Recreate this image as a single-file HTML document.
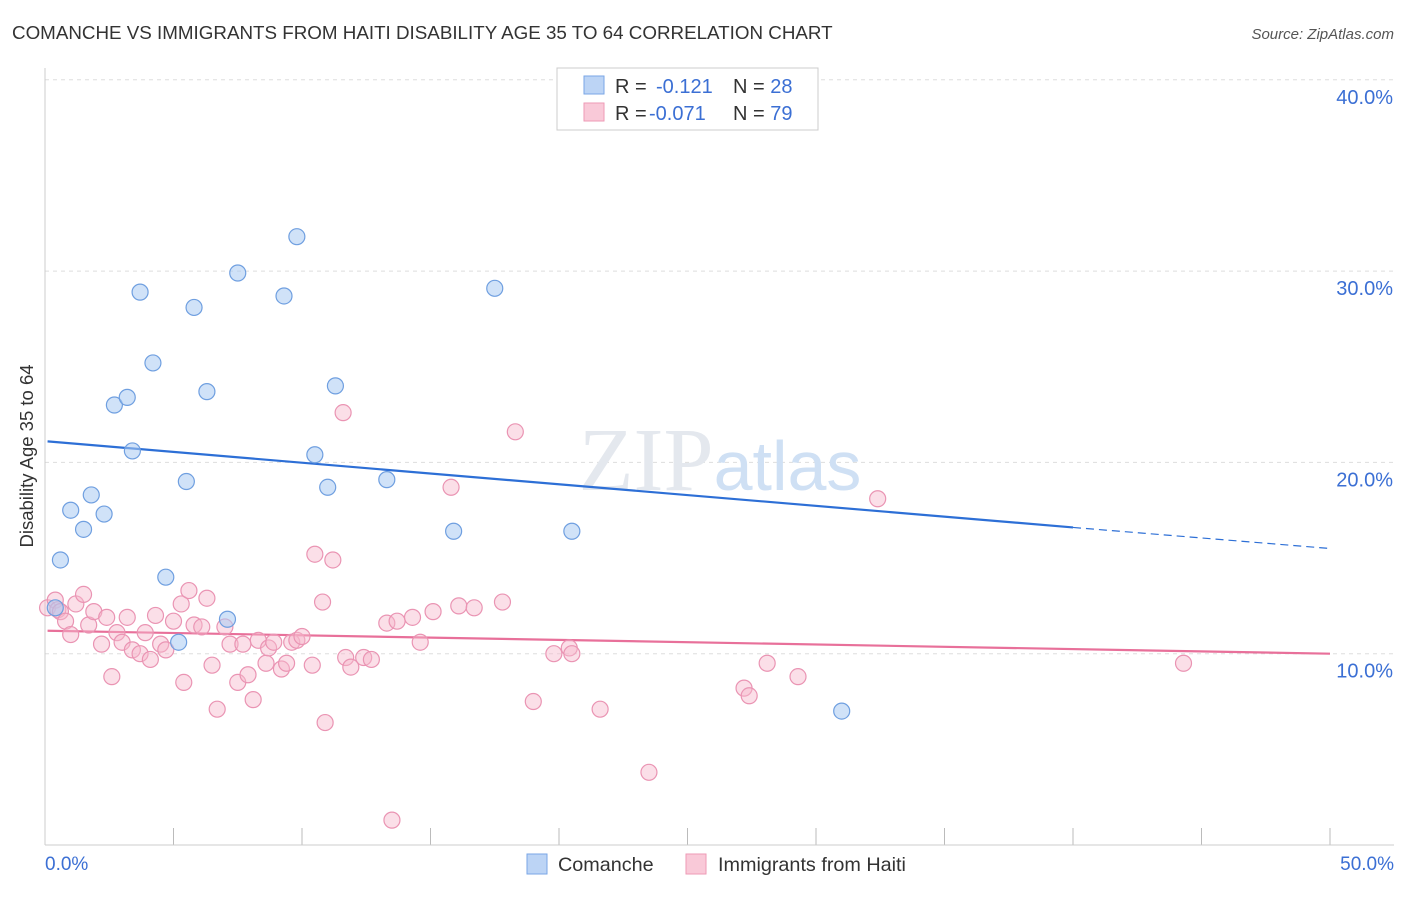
<!DOCTYPE html>
<html><head><meta charset="utf-8"><style>
body{margin:0;background:#fff;font-family:"Liberation Sans",sans-serif}
</style></head><body>
<svg width="1406" height="892" xmlns="http://www.w3.org/2000/svg">
<text x="12" y="39" font-size="18.8" fill="#333">COMANCHE VS IMMIGRANTS FROM HAITI DISABILITY AGE 35 TO 64 CORRELATION CHART</text>
<text x="1394" y="39" font-size="15" fill="#555" text-anchor="end" font-style="italic">Source: ZipAtlas.com</text>
<g id="grid"></g>
<text x="720" y="490" font-size="90" fill="#e4e8ee" text-anchor="middle" font-family="Liberation Serif,serif">ZIP<tspan fill="#cfe0f4" font-family="Liberation Sans,sans-serif" font-size="70">atlas</tspan></text>
<line x1="45" y1="68" x2="45" y2="845" stroke="#ccc"/>
<line x1="45" y1="845" x2="1394" y2="845" stroke="#ccc"/>
<text transform="translate(33,456) rotate(-90)" font-size="18.5" fill="#333" text-anchor="middle">Disability Age 35 to 64</text>
<text x="45" y="870" font-size="19" fill="#3b6fd4">0.0%</text>
<text x="1394" y="870" font-size="19" fill="#3b6fd4" text-anchor="end">50.0%</text>
<g id="lines"></g>
<g id="pts"></g>
<g>
<rect x="557" y="68" width="261" height="62" fill="#fff" stroke="#ccc"/>
<rect x="584" y="76" width="20" height="18" fill="#bcd4f5" stroke="#7aa6e6"/>
<rect x="584" y="103" width="20" height="18" fill="#f9c9d8" stroke="#ee9ab6"/>
<text x="615" y="93" font-size="20" fill="#333">R = <tspan fill="#3b6fd4" x="656">-0.121</tspan><tspan fill="#333" x="733">N = </tspan><tspan fill="#3b6fd4">28</tspan></text>
<text x="615" y="120" font-size="20" fill="#333">R = <tspan fill="#3b6fd4" x="649">-0.071</tspan><tspan fill="#333" x="733">N = </tspan><tspan fill="#3b6fd4">79</tspan></text>
</g>
<g>
<rect x="527" y="854" width="20" height="20" fill="#bcd4f5" stroke="#7aa6e6"/>
<text x="558" y="871" font-size="19.8" fill="#333">Comanche</text>
<rect x="686" y="854" width="20" height="20" fill="#f9c9d8" stroke="#ee9ab6"/>
<text x="718" y="871" font-size="19.8" fill="#333">Immigrants from Haiti</text>
</g>
</svg>
<script>
const yTicks=[10,20,30,40];
const xTicks=[0,5,10,15,20,25,30,35,40,45,50];
const blueX=[0.4,0.6,1.0,1.5,1.8,2.3,2.7,3.2,3.4,3.7,4.2,4.7,5.2,5.5,5.8,6.3,7.1,7.5,9.3,9.8,10.5,11.0,11.3,13.3,15.9,17.5,20.5,31.0];
const blueY=[12.4,14.9,17.5,16.5,18.3,17.3,23.0,23.4,20.6,28.9,25.2,14.0,10.6,19.0,28.1,23.7,11.8,29.9,28.7,31.8,20.4,18.7,24.0,19.1,16.4,29.1,16.4,7.0];
const pinkX=[0.1,0.4,0.5,0.6,0.8,1.0,1.2,1.5,1.7,1.9,2.2,2.4,2.6,2.8,3.0,3.2,3.4,3.7,3.9,4.1,4.3,4.5,4.7,5.0,5.3,5.4,5.6,5.8,6.1,6.3,6.5,6.7,7.0,7.2,7.5,7.7,7.9,8.1,8.3,8.6,8.7,8.9,9.2,9.4,9.6,9.8,10.0,10.4,10.5,10.8,10.9,11.2,11.6,11.7,11.9,12.4,12.7,13.3,13.5,13.7,14.3,14.6,15.1,15.8,16.1,16.7,17.8,18.3,19.0,19.8,20.4,20.5,21.6,23.5,27.2,27.4,28.1,29.3,32.4,44.3];
const pinkY=[12.4,12.8,12.3,12.2,11.7,11.0,12.6,13.1,11.5,12.2,10.5,11.9,8.8,11.1,10.6,11.9,10.2,10.0,11.1,9.7,12.0,10.5,10.2,11.7,12.6,8.5,13.3,11.5,11.4,12.9,9.4,7.1,11.4,10.5,8.5,10.5,8.9,7.6,10.7,9.5,10.3,10.6,9.2,9.5,10.6,10.7,10.9,9.4,15.2,12.7,6.4,14.9,22.6,9.8,9.3,9.8,9.7,11.6,1.3,11.7,11.9,10.6,12.2,18.7,12.5,12.4,12.7,21.6,7.5,10.0,10.3,10.0,7.1,3.8,8.2,7.8,9.5,8.8,18.1,9.5];
const X=v=>45+v*25.7, Y=v=>845-v*19.13;
const NS='http://www.w3.org/2000/svg';
const grid=document.getElementById('grid');
yTicks.forEach(t=>{
const l=document.createElementNS(NS,'line');


l.setAttribute('x1',45);l.setAttribute('x2',1394);l.setAttribute('y1',Y(t));l.setAttribute('y2',Y(t));
l.setAttribute('stroke','#ddd');l.setAttribute('stroke-dasharray','4,4');grid.appendChild(l);
const tx=document.createElementNS(NS,'text');


tx.setAttribute('x',1393);tx.setAttribute('y',Y(t)+24);tx.setAttribute('text-anchor','end');
tx.setAttribute('font-size','20');tx.setAttribute('fill','#3b6fd4');tx.textContent=t.toFixed(1)+'%';grid.appendChild(tx);
});
xTicks.forEach(t=>{
const l=document.createElementNS(NS,'line');


l.setAttribute('x1',X(t));l.setAttribute('x2',X(t));l.setAttribute('y1',828);l.setAttribute('y2',845);
l.setAttribute('stroke','#bbb');grid.appendChild(l);
});
const lines=document.getElementById('lines');
function ln(x1,y1,x2,y2,c,name,dash){
const l=document.createElementNS(NS,'line');


l.setAttribute('x1',X(x1));l.setAttribute('y1',Y(y1));l.setAttribute('x2',X(x2));l.setAttribute('y2',Y(y2));
l.setAttribute('stroke',c);l.setAttribute('stroke-width',dash?1.2:2.2);if(dash)l.setAttribute('stroke-dasharray','8,5');lines.appendChild(l);}
ln(0.1,21.1,40,16.6,'#2d6fd6','comanche-trendline');
ln(40,16.6,50,15.5,'#2d6fd6','comanche-trendline-extension',true);
ln(0.1,11.2,50,10.0,'#e8709a','haiti-trendline');
const pts=document.getElementById('pts');
function dot(x,y,f,s,name){
const c=document.createElementNS(NS,'circle');


c.setAttribute('cx',X(x));c.setAttribute('cy',Y(y));c.setAttribute('r',8);
c.setAttribute('fill',f);c.setAttribute('stroke',s);c.setAttribute('stroke-width',1.2);pts.appendChild(c);}
pinkX.forEach((x,i)=>dot(x,pinkY[i],'rgba(246,184,205,0.45)','#ea94b3','haiti-point'));
blueX.forEach((x,i)=>dot(x,blueY[i],'rgba(170,202,242,0.55)','#6f9fe0','comanche-point'));
</script>
</body></html>
